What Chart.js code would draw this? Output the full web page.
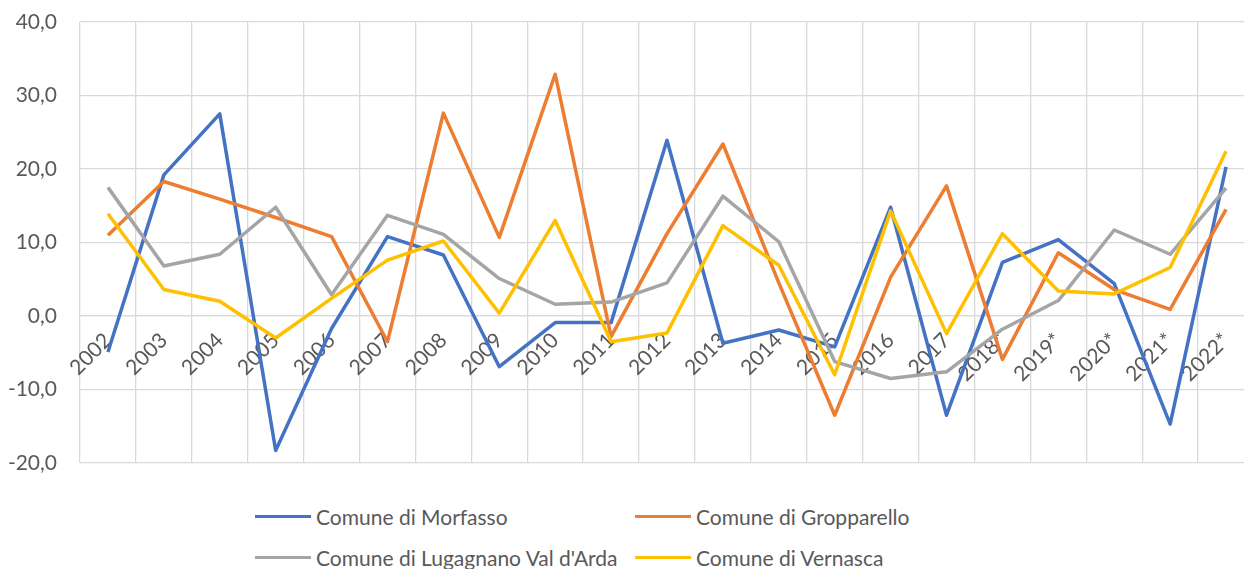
<!DOCTYPE html>
<html>
<head>
<meta charset="utf-8">
<script src="https://cdn.jsdelivr.net/npm/chart.js@4.4.0/dist/chart.umd.min.js"></script>
<style>
  body { margin: 0; overflow: hidden; background: #fff; font-family: Lato, sans-serif; }
  #wrap { position: relative; width: 1254px; height: 475px; }
  #legend { position: absolute; top: 496px; left: 255px; display: grid;
            grid-template-columns: 380px auto; grid-auto-rows: 41px; }
  .item { display: flex; align-items: center; font-size: 21px; color: #595959; white-space: nowrap; }
  .item span.line { display: inline-block; width: 56px; height: 3px; margin-right: 5px; }
</style>
</head>
<body>
<div id="wrap"><canvas id="myChart"></canvas></div>
<div id="legend"></div>
<script>
var years = ["2002","2003","2004","2005","2006","2007","2008","2009","2010","2011","2012",
             "2013","2014","2015","2016","2017","2018*","2019*","2020*","2021*","2022*"];
var morfasso    = [-4.9, 19.2, 27.5, -18.3, -1.7, 10.8, 8.3, -6.9, -0.9, -0.9, 23.9, -3.7, -1.9, -4.2, 14.8, -13.5, 7.3, 10.4, 4.4, -14.7, 20.3];
var gropparello = [11.0, 18.3, 15.9, 13.4, 10.8, -3.5, 27.6, 10.7, 32.9, -2.8, 11.2, 23.4, 4.5, -13.5, 5.3, 17.7, -5.9, 8.6, 3.6, 0.9, 14.5];
var lugagnano   = [17.5, 6.8, 8.4, 14.8, 2.9, 13.7, 11.1, 5.1, 1.6, 1.9, 4.5, 16.3, 10.1, -6.2, -8.5, -7.6, -1.8, 2.1, 11.7, 8.4, 17.4];
var vernasca    = [13.9, 3.6, 2.0, -3.0, 2.4, 7.6, 10.2, 0.4, 13.0, -3.5, -2.3, 12.3, 6.9, -8.0, 14.3, -2.4, 11.2, 3.4, 3.0, 6.6, 22.4];
var names  = ["Comune di Morfasso", "Comune di Gropparello", "Comune di Lugagnano Val d'Arda", "Comune di Vernasca"];
var colors = ["#4472C4", "#ED7D31", "#A5A5A5", "#FFC000"];
var yTicks = [-20, -10, 0, 10, 20, 30, 40];

var gridColor = "#d9d9d9";
var textColor = "#595959";

Chart.defaults.font.family = "Lato, sans-serif";
Chart.defaults.font.size = 21;
Chart.defaults.color = textColor;

// legend drawn as html so the two columns line up like in excel
var htmlLegend = {
  id: "htmlLegend",
  afterUpdate: function(chart){
    var box = document.getElementById("legend");
    box.innerHTML = "";
    var items = chart.options.plugins.legend.labels.generateLabels(chart);
    items.sort(function(a, b){ return a.datasetIndex - b.datasetIndex; });
    items.forEach(function(it){
      var div = document.createElement("div");
      div.className = "item";
      var line = document.createElement("span");
      line.className = "line";
      line.style.background = it.strokeStyle;
      div.appendChild(line);
      div.appendChild(document.createTextNode(it.text));
      box.appendChild(div);
    });
  }
};

function makeSet(i, values){
  return {
    label: names[i],
    data: values,
    borderColor: colors[i],
    backgroundColor: colors[i],
    borderWidth: 3.5,
    pointRadius: 0,
    tension: 0,
    borderJoinStyle: "round",
    order: 4 - i
  };
}

// no extra room for the label overhang, the plot goes to the edges
function noPad(s){
  s.paddingTop = 0; s.paddingBottom = 0; s.paddingLeft = 0; s.paddingRight = 0;
}

var ctx = document.getElementById("myChart").getContext("2d");
var myChart = new Chart(ctx, {
  type: "line",
  data: {
    labels: years,
    datasets: [makeSet(0, morfasso), makeSet(1, gropparello), makeSet(2, lugagnano), makeSet(3, vernasca)]
  },
  options: {
    responsive: true,
    maintainAspectRatio: false,
    animation: false,
    layout: { padding: { top: 22, bottom: 12, left: 0, right: 0 } },
    plugins: {
      legend: { display: false },
      tooltip: { enabled: false }
    },
    scales: {
      x: {
        type: "category",
        offset: true,
        position: { y: 0 },
        grid: { offset: true, color: gridColor, lineWidth: 1.3, drawTicks: false },
        border: { color: gridColor, width: 1.3 },
        ticks: { minRotation: 45, maxRotation: 45, autoSkip: false, padding: 12, color: textColor },
        afterFit: function(s){ s.height = 0; noPad(s); }
      },
      y: {
        min: -20,
        max: 40,
        afterBuildTicks: function(s){ s.ticks = yTicks.map(function(v){ return { value: v }; }); },
        grid: { color: gridColor, lineWidth: 1.3, drawTicks: false },
        border: { display: false },
        ticks: {
          padding: 23,
          color: textColor,
          callback: function(v){ return v.toFixed(1).replace(".", ","); }
        },
        afterFit: function(s){ s.width = 80; noPad(s); }
      }
    }
  },
  plugins: [htmlLegend]
});
</script>
</body>
</html>
